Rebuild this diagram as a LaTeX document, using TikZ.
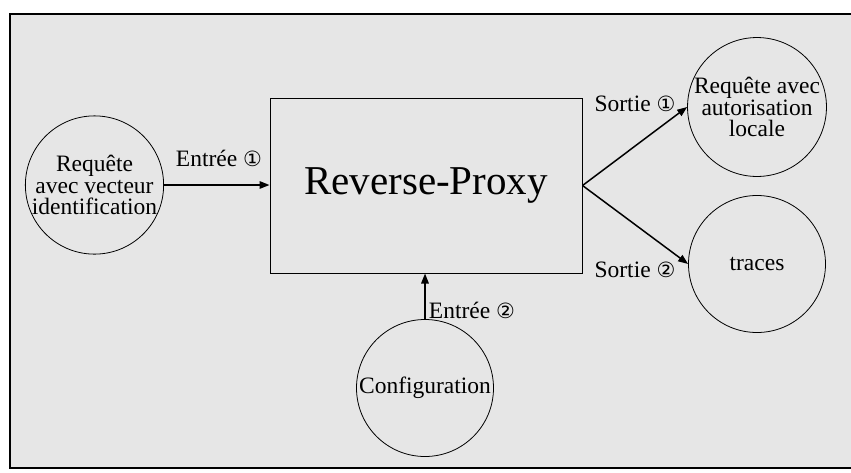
\documentclass[tikz,border=0pt]{standalone}
\usepackage{fontspec}
\setmainfont{Liberation Serif}
\newfontfamily\symfont{DejaVu Sans}
\usetikzlibrary{arrows.meta}
\newcommand{\cnum}[1]{{\symfont\fontsize{21}{21}\selectfont#1}}
\tikzset{
  txt/.style={font=\fontsize{23.5}{21.5}\selectfont, align=center, inner sep=0pt},
  bubble/.style={txt, circle, draw=black, line width=0.8pt, minimum size=137pt},
  flow/.style={line width=1.5pt, -{Triangle[length=10pt,width=7.5pt]}},
  lbl/.style={txt}
}
\definecolor{panel}{HTML}{E6E6E6}
\definecolor{shade}{HTML}{7A7A7A}
\begin{document}
\begin{tikzpicture}[x=1pt,y=-1pt]
\useasboundingbox (0,0) rectangle (851,472);
% framed panel with its drop shadow
\fill[shade] (25,17) rectangle (870,472);
\filldraw[fill=panel, draw=black, line width=1.4pt] (10,14) rectangle (866,468);

% central proxy box
\node[draw=black, line width=1pt, minimum width=312pt, minimum height=175pt, inner sep=0pt,
      font=\fontsize{41}{41}\selectfont] (proxy) at (426,185.5) {Reverse-Proxy};

% inputs and outputs
\node[bubble] (req) at (94.5,185) {Requête\\avec vecteur\\identification};
\node[bubble] (conf) at (425,388) {Configuration};
\node[bubble] (auth) at (757,107) {Requête avec\\autorisation\\locale};
\node[bubble] (trc) at (757,264) {traces};

% connectors
\draw[flow] (req.east) -- (req.east -| proxy.west);
\draw[flow] (conf.north) -- (conf.north |- proxy.south);
\coordinate (out) at (proxy.east);
\draw[flow] (out) -- (auth.west);
\draw[flow] (out) -- (trc.west);

% connector labels
\node[lbl] (l1) at (219,158) {Entrée \cnum{①}};
\node[lbl] (l2) at (472,310) {Entrée \cnum{②}};
\node[lbl] (l3) at (635,104) {Sortie \cnum{①}};
\node[lbl] (l4) at (635,270) {Sortie \cnum{②}};
\end{tikzpicture}
\end{document}
